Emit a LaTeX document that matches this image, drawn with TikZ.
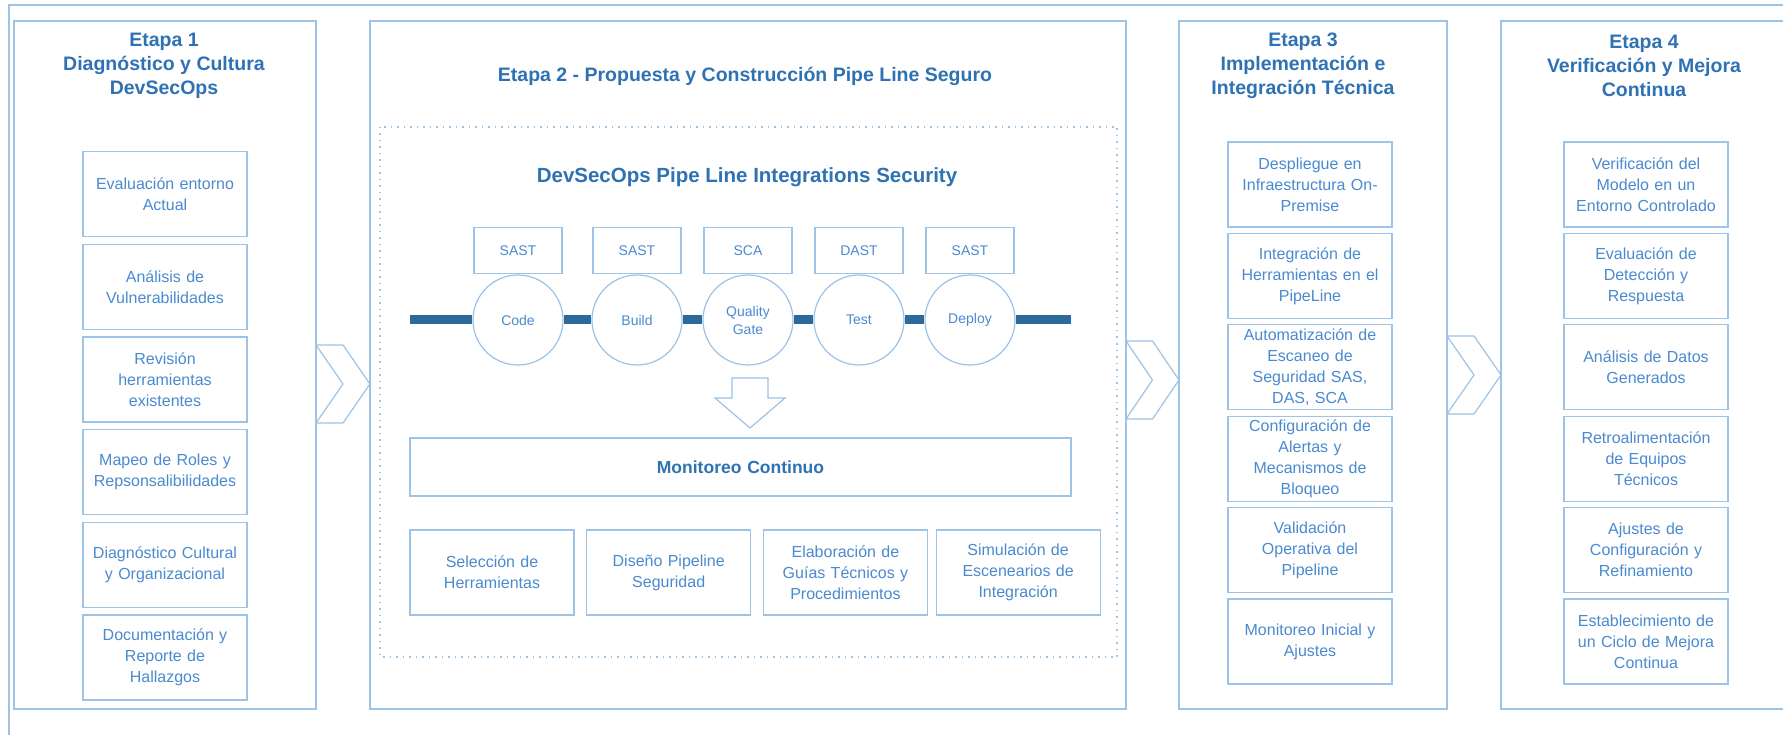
\documentclass[tikz,border=0pt]{standalone}
\usepackage{fontspec}
\setmainfont{Liberation Sans}
\usetikzlibrary{positioning,calc}
\definecolor{lineBlue}{HTML}{9DC3E6}
\definecolor{titleBlue}{HTML}{2E72B3}
\definecolor{bodyBlue}{HTML}{4A8AD0}
\definecolor{pipeBlue}{HTML}{2C6A9C}
\tikzset{
    stagebox/.style={draw=lineBlue,line width=1.3pt,fill=white,inner sep=0pt},
    stagetitle/.style={align=center,text=titleBlue,inner sep=0pt,
        font=\fontsize{19.5}{24}\selectfont\bfseries},
    subbox/.style={draw=lineBlue,line width=1.2pt,fill=white,minimum width=164pt,
        minimum height=85pt,text width=156pt,inner sep=2pt,align=center,text=bodyBlue,
        font=\fontsize{16}{21}\selectfont},
    toolbox/.style={draw=lineBlue,line width=1.2pt,fill=white,minimum width=88pt,
        minimum height=46pt,inner sep=0pt,text=bodyBlue,font=\fontsize{14}{17}\selectfont},
    stagecircle/.style={circle,draw=lineBlue,line width=1.2pt,fill=white,minimum size=90pt,
        inner sep=0pt,align=center,text=bodyBlue,font=\fontsize{14}{18}\selectfont},
    pipe/.style={draw=pipeBlue,line width=9pt},
    chevron/.style={draw=lineBlue,line width=1.2pt,fill=white,line join=miter},
    blockarrow/.style={draw=lineBlue,line width=1.2pt,fill=white},
    dottedbox/.style={draw=lineBlue,line width=1.2pt,dash pattern=on 1.5pt off 5pt}
}
\begin{document}
\begin{tikzpicture}[x=1pt,y=-1pt]
    \useasboundingbox (0,0) rectangle (1783,735);
    \fill[white] (0,0) rectangle (1783,735);
    % outer frame
    \draw[draw=lineBlue,line width=1.3pt] (9,745) -- (9,5) -- (1795,5);

    % stage boxes
    \node[stagebox,minimum width=302pt,minimum height=688pt] (s1) at (165,365) {};
    \node[stagebox,minimum width=756pt,minimum height=688pt] (s2) at (748,365) {};
    \node[stagebox,minimum width=268pt,minimum height=688pt] (s3) at (1313,365) {};
    \node[stagebox,minimum width=300pt,minimum height=688pt] (s4) at (1651,365) {};

    % chevrons between stages
    \foreach \l/\r/\m in {316/370/384,1126/1179/380,1447/1501/375}
        \draw[chevron] (\l,{\m-39}) -- ({(\l+\r)/2},{\m-39}) -- (\r,\m)
            -- ({(\l+\r)/2},{\m+39}) -- (\l,{\m+39}) -- ({(\l+\r)/2},\m) -- cycle;

    % Etapa 1
    \node[stagetitle] (t1) at (164,66) {Etapa 1\\Diagnóstico y Cultura\\DevSecOps};
    \node[subbox] (e1a) at (165,194) {Evaluación entorno\\Actual};
    \node[subbox] (e1b) [below=6.5pt of e1a] {Análisis de\\Vulnerabilidades};
    \node[subbox] (e1c) [below=6.5pt of e1b] {Revisión\\herramientas\\existentes};
    \node[subbox] (e1d) [below=6.5pt of e1c] {Mapeo de Roles y\\Repsonsalibilidades};
    \node[subbox] (e1e) [below=6.5pt of e1d] {Diagnóstico Cultural\\y Organizacional};
    \node[subbox] (e1f) [below=6.5pt of e1e] {Documentación y\\Reporte de\\Hallazgos};

    % Etapa 2
    \node[stagetitle] (t2) at (745,76) {Etapa 2 - Propuesta y Construcción Pipe Line Seguro};
    \draw[dottedbox] (380,127) rectangle (1117,657);
    \node[stagetitle,font=\fontsize{20.5}{24}\selectfont\bfseries] (t2b) at (747,177)
        {DevSecOps Pipe Line Integrations Security};
    \coordinate (barL) at (410,320);
    \coordinate (barR) at (1071,320);
    \node[stagecircle] (code) at (518,320) {Code};
    \node[stagecircle] (build) at (637,320) {Build};
    \node[stagecircle] (qgate) at (748,320) {Quality\\Gate};
    \node[stagecircle] (test) at (859,320) {Test};
    \node[stagecircle] (deploy) at (970,320) {Deploy};
    \draw[pipe] (barL) -- (code);
    \draw[pipe] (code) -- (build);
    \draw[pipe] (build) -- (qgate);
    \draw[pipe] (qgate) -- (test);
    \draw[pipe] (test) -- (deploy);
    \draw[pipe] (deploy) -- (barR);
    \node[toolbox] (sast1) [above=0pt of code] {SAST};
    \node[toolbox] (sast2) [above=0pt of build] {SAST};
    \node[toolbox] (sca) [above=0pt of qgate] {SCA};
    \node[toolbox] (dast) [above=0pt of test] {DAST};
    \node[toolbox] (sast3) [above=0pt of deploy] {SAST};
    \coordinate (dn) at (750,378);
    \draw[blockarrow,shift={(dn)}] (-18,0) -- (18,0) -- (18,20) -- (35,20) -- (0,50)
        -- (-35,20) -- (-18,20) -- cycle;
    \node[subbox,minimum width=661pt,minimum height=58pt,text width=640pt,text=titleBlue,
        font=\fontsize{17.5}{21}\selectfont\bfseries] (mon) at (740.5,467) {Monitoreo Continuo};
    \node[subbox] (sel) at (492,572.5) {Selección de\\Herramientas};
    \node[subbox] (dis) [right=11.5pt of sel] {Diseño Pipeline\\Seguridad};
    \node[subbox] (ela) [right=11.5pt of dis] {Elaboración de\\Guías Técnicos y\\Procedimientos};
    \node[subbox] (sim) [right=7.5pt of ela] {Simulación de\\Escenearios de\\Integración};

    % Etapa 3
    \node[stagetitle] (t3) at (1303,66) {Etapa 3\\Implementación e\\Integración Técnica};
    \node[subbox] (e3a) at (1310,184.5) {Despliegue en\\Infraestructura On-\\Premise};
    \node[subbox] (e3b) [below=5.2pt of e3a] {Integración de\\Herramientas en el\\PipeLine};
    \node[subbox] (e3c) [below=5.2pt of e3b] {Automatización de\\Escaneo de\\Seguridad SAS,\\DAS, SCA};
    \node[subbox] (e3d) [below=5.2pt of e3c] {Configuración de\\Alertas y\\Mecanismos de\\Bloqueo};
    \node[subbox] (e3e) [below=5.2pt of e3d] {Validación\\Operativa del\\Pipeline};
    \node[subbox] (e3f) [below=5.2pt of e3e] {Monitoreo Inicial y\\Ajustes};

    % Etapa 4
    \node[stagetitle] (t4) at (1644,66) {Etapa 4\\Verificación y Mejora\\Continua};
    \node[subbox] (e4a) at (1646,184.5) {Verificación del\\Modelo en un\\Entorno Controlado};
    \node[subbox] (e4b) [below=5.2pt of e4a] {Evaluación de\\Detección y\\Respuesta};
    \node[subbox] (e4c) [below=5.2pt of e4b] {Análisis de Datos\\Generados};
    \node[subbox] (e4d) [below=5.2pt of e4c] {Retroalimentación\\de Equipos\\Técnicos};
    \node[subbox] (e4e) [below=5.2pt of e4d] {Ajustes de\\Configuración y\\Refinamiento};
    \node[subbox] (e4f) [below=5.2pt of e4e] {Establecimiento de\\un Ciclo de Mejora\\Continua};
\end{tikzpicture}
\end{document}
